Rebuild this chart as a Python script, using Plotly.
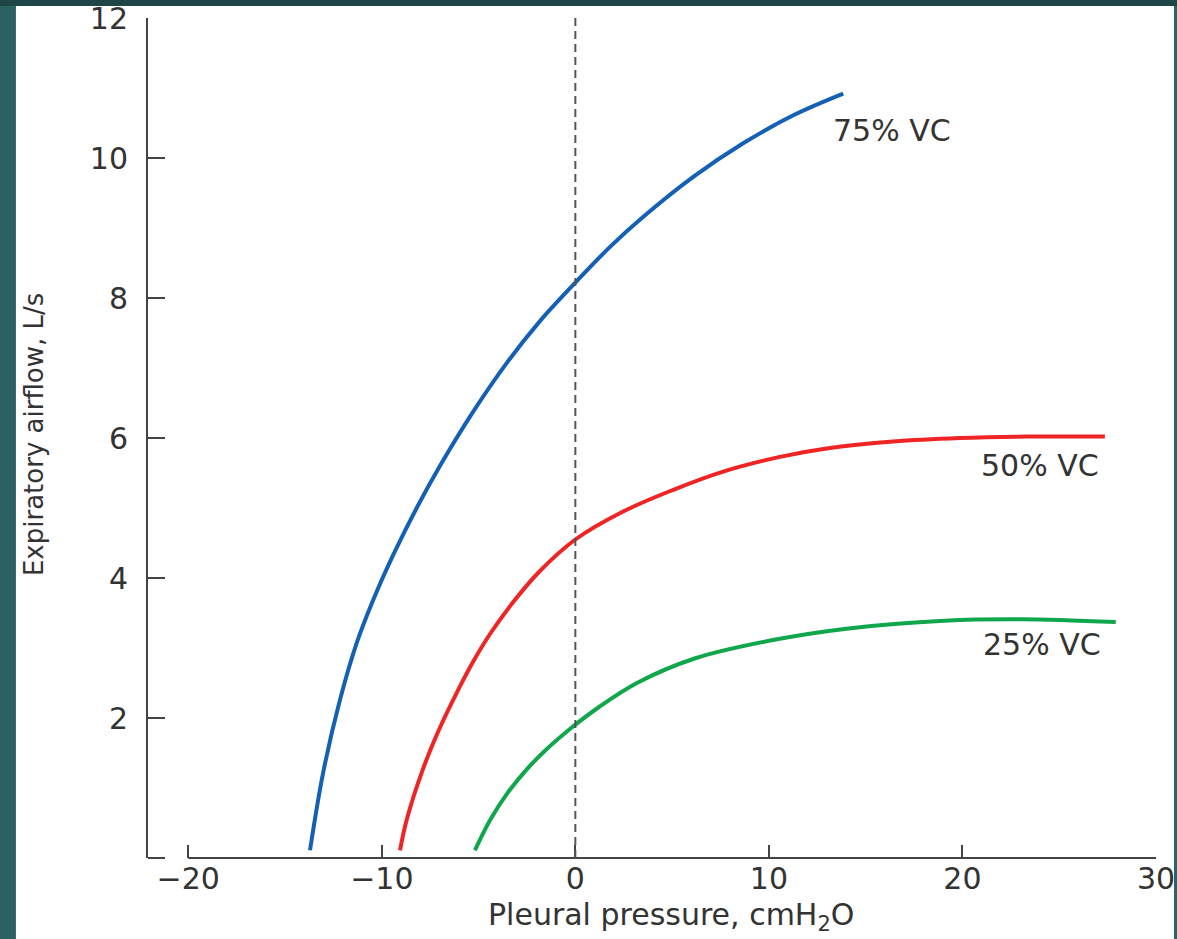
import plotly.graph_objects as go

# ---- data ----
vc75_x = [-13.71, -13.03, -12.16, -11.30, -10.44, -9.41, -8.20, -7.00, -5.27, -3.55, -1.83, 0.0, 1.79, 3.51, 6.09, 8.67, 11.26, 13.84]
vc75_y = [0.11, 1.22, 2.26, 3.07, 3.69, 4.33, 5.00, 5.60, 6.38, 7.07, 7.67, 8.22, 8.73, 9.16, 9.73, 10.21, 10.61, 10.92]

vc50_x = [-9.06, -8.72, -7.86, -7.00, -6.13, -5.27, -4.41, -3.20, -1.83, 0.0, 2.47, 5.06, 7.64, 10.57, 12.98, 16.42, 19.87, 23.32, 27.36]
vc50_y = [0.11, 0.54, 1.28, 1.86, 2.36, 2.81, 3.20, 3.66, 4.10, 4.55, 4.95, 5.26, 5.52, 5.73, 5.85, 5.95, 6.00, 6.02, 6.02]

vc25_x = [-5.19, -4.41, -3.50, -2.50, -1.50, -0.20, 1.19, 3.18, 6.16, 10.13, 14.11, 19.07, 23.05, 27.92]
vc25_y = [0.11, 0.54, 0.93, 1.27, 1.55, 1.86, 2.15, 2.50, 2.85, 3.11, 3.28, 3.39, 3.41, 3.37]

curve_labels = ["75% VC", "50% VC", "25% VC"]
label_x = [16.36, 24.0, 24.1]
label_y = [10.4, 5.61, 3.05]

x_ticks = [-20, -10, 0, 10, 20, 30]
x_ticktext = ["\u221220", "\u221210", "0", "10", "20", "30"]
y_ticks = [2, 4, 6, 8, 10, 12]
y_ticktext = ["2", "4", "6", "8", "10", "12"]

x_title = "Pleural pressure, cmH<sub>2</sub>O"
y_title = "Expiratory airflow, L/s"

x_range = [-22.08, 30.0]
y_range = [0, 12]

AX = "#444444"
TXT = "#333333"
FONT = "DejaVu Sans"

fig = go.Figure()
series = [(vc75_x, vc75_y, "#1460b4"), (vc50_x, vc50_y, "#ef2424"), (vc25_x, vc25_y, "#10a64c")]
for (xs, ys, col), name in zip(series, curve_labels):
    fig.add_trace(go.Scatter(x=xs, y=ys, mode="lines", name=name,
                             line=dict(color=col, width=4, shape="spline", smoothing=1.0),
                             showlegend=False, hoverinfo="skip"))

for t, lx, ly in zip(curve_labels, label_x, label_y):
    fig.add_annotation(x=lx, y=ly, text=t, showarrow=False, xanchor="center", yanchor="middle",
                       font=dict(family=FONT, size=30, color=TXT))

shapes = [
    # teal frame
    dict(type="rect", xref="paper", yref="paper", x0=-0.3, x1=1.3, y0=-0.3, y1=1.3,
         fillcolor="#2a6262", line_width=0, layer="below"),
    dict(type="rect", xref="paper", yref="paper", x0=-0.3, x1=1.3, y0=1.0143, y1=1.3,
         fillcolor="#1e4646", line_width=0, layer="below"),
    dict(type="rect", xref="paper", yref="paper", x0=-0.131, x1=1.0179, y0=-0.2, y1=1.0143,
         fillcolor="white", line_width=0, layer="below"),
    # x axis line (detached from the y axis), at the bottom edge, not clipped vertically
    dict(type="line", xref="x", yref="y domain", x0=-20, x1=30, y0=0, y1=0,
         line=dict(color=AX, width=2)),
    # bottom tick of the y axis (the "L" corner)
    dict(type="line", xref="x domain", yref="y domain", x0=0, x1=17 / 1008, y0=0, y1=0,
         line=dict(color=AX, width=2)),
    # dashed zero line
    dict(type="line", xref="x", yref="y", x0=0, x1=0, y0=0, y1=12,
         line=dict(color="#555555", width=2, dash="8px,5px")),
]
fig.update_layout(shapes=shapes)

fig.add_annotation(xref="paper", yref="paper", x=0.519, y=-0.070, xanchor="center", yanchor="middle",
                   text=x_title, showarrow=False,
                   font=dict(family=FONT, size=30, color=TXT))
fig.add_annotation(xref="paper", yref="paper", x=-0.113, y=0.5036, xanchor="center", yanchor="middle",
                   text=y_title, textangle=-90, showarrow=False,
                   font=dict(family=FONT, size=26, color=TXT))

fig.update_layout(
    width=1177, height=939,
    margin=dict(l=148, r=21, t=18, b=81, pad=0),
    paper_bgcolor="#2a6262",
    plot_bgcolor="white",
    xaxis=dict(range=x_range, showgrid=False, zeroline=False, showline=False, automargin=False,
               ticks="inside", ticklen=13, tickwidth=2, tickcolor=AX,
               tickvals=x_ticks, ticktext=x_ticktext,
               tickfont=dict(family=FONT, size=30, color=TXT)),
    yaxis=dict(range=y_range, showgrid=False, zeroline=False, showline=True, automargin=False,
               linecolor=AX, linewidth=2,
               ticks="inside", ticklen=17, tickwidth=2, tickcolor=AX,
               tickvals=y_ticks, ticktext=y_ticktext, ticklabelstandoff=12,
               tickfont=dict(family=FONT, size=30, color=TXT)),
)

fig.write_html("out.html")
